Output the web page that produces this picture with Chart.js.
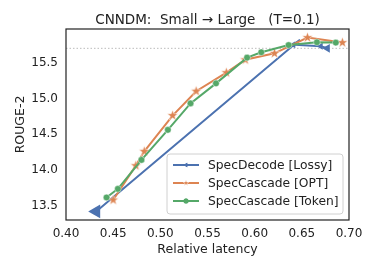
<!DOCTYPE html>
<html>
<head>
<meta charset="utf-8">
<script src="https://cdn.jsdelivr.net/npm/chart.js@4/dist/chart.umd.min.js"></script>
<style>
  html, body { margin: 0; padding: 0; background: #fff; }
  #wrap { width: 378px; height: 270px; }
</style>
</head>
<body>
<div id="wrap"><canvas id="chart" width="378" height="270"></canvas></div>
<script>
// values
const specDecodeX = [0.432, 0.648, 0.641, 0.670, 0.677];
const specDecodeY = [13.42, 15.82, 15.75, 15.73, 15.70];
const specDecodeSize = [8, 0, 4, 4, 5];

const cascadeOptX = [0.450, 0.474, 0.483, 0.513, 0.538, 0.570, 0.590, 0.621, 0.656, 0.693];
const cascadeOptY = [13.58, 14.06, 14.26, 14.76, 15.10, 15.36, 15.54, 15.63, 15.85, 15.78];

const cascadeTokX = [0.443, 0.455, 0.480, 0.508, 0.532, 0.559, 0.592, 0.607, 0.636, 0.666, 0.686];
const cascadeTokY = [13.615, 13.735, 14.14, 14.56, 14.93, 15.21, 15.57, 15.645, 15.745, 15.785, 15.78];

const refLineY = 15.70;
const xTicks = [0.40, 0.45, 0.50, 0.55, 0.60, 0.65, 0.70];
const yTicks = [13.5, 14.0, 14.5, 15.0, 15.5];

const titleText = 'CNNDM:  Small \u2192 Large   (T=0.1)';

const BLUE = '#4C72B0', ORANGE = '#DD8452', GREEN = '#55A868';
const FONT = 'DejaVu Sans';

const toPts = (xs, ys) => xs.map((x, i) => ({ x: x, y: ys[i] }));

// filled star marker like matplotlib's '*'
function makeStar(r, color) {
  const c = document.createElement('canvas');
  const s = Math.ceil(r * 2 + 2);
  c.width = s; c.height = s;
  const g = c.getContext('2d');
  g.translate(s / 2, s / 2);
  g.beginPath();
  for (let i = 0; i < 10; i++) {
    const rr = i % 2 === 0 ? r : r * 0.42;
    const a = -Math.PI / 2 + i * Math.PI / 5;
    g.lineTo(rr * Math.cos(a), rr * Math.sin(a));
  }
  g.closePath();
  g.fillStyle = color;
  g.fill();
  g.lineWidth = 0.6;
  g.strokeStyle = 'rgba(255,255,255,0.8)';
  g.stroke();
  return c;
}
const starBig = makeStar(5.5, ORANGE);
const starSmall = makeStar(3, ORANGE);

// frame round the plot + title centred over the plot area
const boxPlugin = {
  id: 'box',
  afterDatasetsDraw(chart) {
    const { ctx, chartArea: a } = chart;
    ctx.save();
    ctx.strokeStyle = '#222';
    ctx.lineWidth = 1.2;
    ctx.strokeRect(a.left, a.top, a.right - a.left, a.bottom - a.top);
    ctx.fillStyle = '#222';
    ctx.font = '13.5px ' + FONT;
    ctx.textAlign = 'center';
    ctx.textBaseline = 'middle';
    ctx.fillText(titleText, (a.left + a.right) / 2, a.top - 9);
    ctx.restore();
  }
};

const legendPlugin = {
  id: 'boxLegend',
  afterDraw(chart) {
    const { ctx, chartArea: a } = chart;
    const items = chart.data.datasets.filter(d => !d.hideLegend);
    const w = 176, rowH = 18, h = items.length * rowH + 6;
    const x0 = a.right - 6 - w, y0 = a.bottom - 6 - h;
    ctx.save();
    ctx.beginPath();
    ctx.roundRect(x0, y0, w, h, 3);
    ctx.fillStyle = 'rgba(255,255,255,0.85)';
    ctx.fill();
    ctx.strokeStyle = '#d0d0d0';
    ctx.lineWidth = 1;
    ctx.stroke();
    ctx.font = '12.3px ' + FONT;
    ctx.textBaseline = 'middle';
    items.forEach((d, i) => {
      const cy = y0 + 11 + i * rowH;
      ctx.strokeStyle = d.borderColor;
      ctx.lineWidth = 2;
      ctx.beginPath();
      ctx.moveTo(x0 + 6, cy);
      ctx.lineTo(x0 + 32, cy);
      ctx.stroke();
      const cx = x0 + 19;
      if (d.label.includes('OPT')) {
        ctx.drawImage(starSmall, cx - starSmall.width / 2, cy - starSmall.height / 2);
      } else {
        ctx.fillStyle = d.borderColor;
        Chart.helpers.drawPoint(ctx, {
          pointStyle: d.pointStyle, rotation: d.rotation || 0, radius: 2.5, borderWidth: 0
        }, cx, cy);
        ctx.fill();
      }
      ctx.fillStyle = '#222';
      ctx.fillText(d.label, x0 + 41, cy + 0.5);
    });
    ctx.restore();
  }
};

new Chart(document.getElementById('chart'), {
  type: 'scatter',
  data: {
    datasets: [
      {
        label: 'SpecDecode [Lossy]',
        data: toPts(specDecodeX, specDecodeY),
        showLine: true,
        borderColor: BLUE,
        backgroundColor: BLUE,
        borderWidth: 2,
        pointStyle: 'triangle',
        rotation: -90,
        pointRadius: specDecodeSize,
        pointBorderWidth: 0,
        order: 3
      },
      {
        label: 'SpecCascade [OPT]',
        data: toPts(cascadeOptX, cascadeOptY),
        showLine: true,
        borderColor: ORANGE,
        backgroundColor: ORANGE,
        borderWidth: 2,
        pointStyle: starBig,
        pointRadius: 5,
        order: 2
      },
      {
        label: 'SpecCascade [Token]',
        data: toPts(cascadeTokX, cascadeTokY),
        showLine: true,
        borderColor: GREEN,
        backgroundColor: GREEN,
        borderWidth: 2,
        pointStyle: 'circle',
        pointRadius: 3.3,
        pointBorderColor: 'rgba(255,255,255,0.7)',
        pointBorderWidth: 0.6,
        order: 1
      },
      {
        label: 'ref',
        hideLegend: true,
        data: [{ x: xTicks[0], y: refLineY }, { x: xTicks[xTicks.length - 1], y: refLineY }],
        showLine: true,
        borderColor: '#bbbbbb',
        borderWidth: 1,
        borderDash: [1.5, 2],
        pointRadius: 0,
        order: 4
      }
    ]
  },
  options: {
    responsive: false,
    animation: false,
    layout: { padding: { left: 0, right: 29, top: 29, bottom: 13 } },
    plugins: {
      legend: { display: false },
      tooltip: { enabled: false },
      title: { display: false }
    },
    scales: {
      x: {
        type: 'linear',
        min: 0.40,
        max: 0.70,
        afterBuildTicks: s => { s.ticks = xTicks.map(v => ({ value: v })); },
        afterFit: s => { s.height = 37; },
        grid: { display: false, drawTicks: false },
        border: { display: false },
        ticks: {
          color: '#222',
          font: { family: FONT, size: 12 },
          padding: 7,
          callback: v => v.toFixed(2)
        },
        title: {
          display: true,
          text: 'Relative latency',
          color: '#222',
          font: { family: FONT, size: 12.5 },
          padding: { top: 2, bottom: 0 }
        }
      },
      y: {
        type: 'linear',
        min: 13.30,
        max: 15.97,
        afterBuildTicks: s => { s.ticks = yTicks.map(v => ({ value: v })); },
        afterFit: s => { s.width = 66; },
        grid: { display: false, drawTicks: false },
        border: { display: false },
        ticks: {
          color: '#222',
          font: { family: FONT, size: 12 },
          padding: 8,
          callback: v => v.toFixed(1)
        },
        title: {
          display: true,
          text: 'ROUGE-2',
          color: '#222',
          font: { family: FONT, size: 12.5 },
          padding: { top: 13, bottom: 0 }
        }
      }
    }
  },
  plugins: [boxPlugin, legendPlugin]
});
</script>
</body>
</html>
